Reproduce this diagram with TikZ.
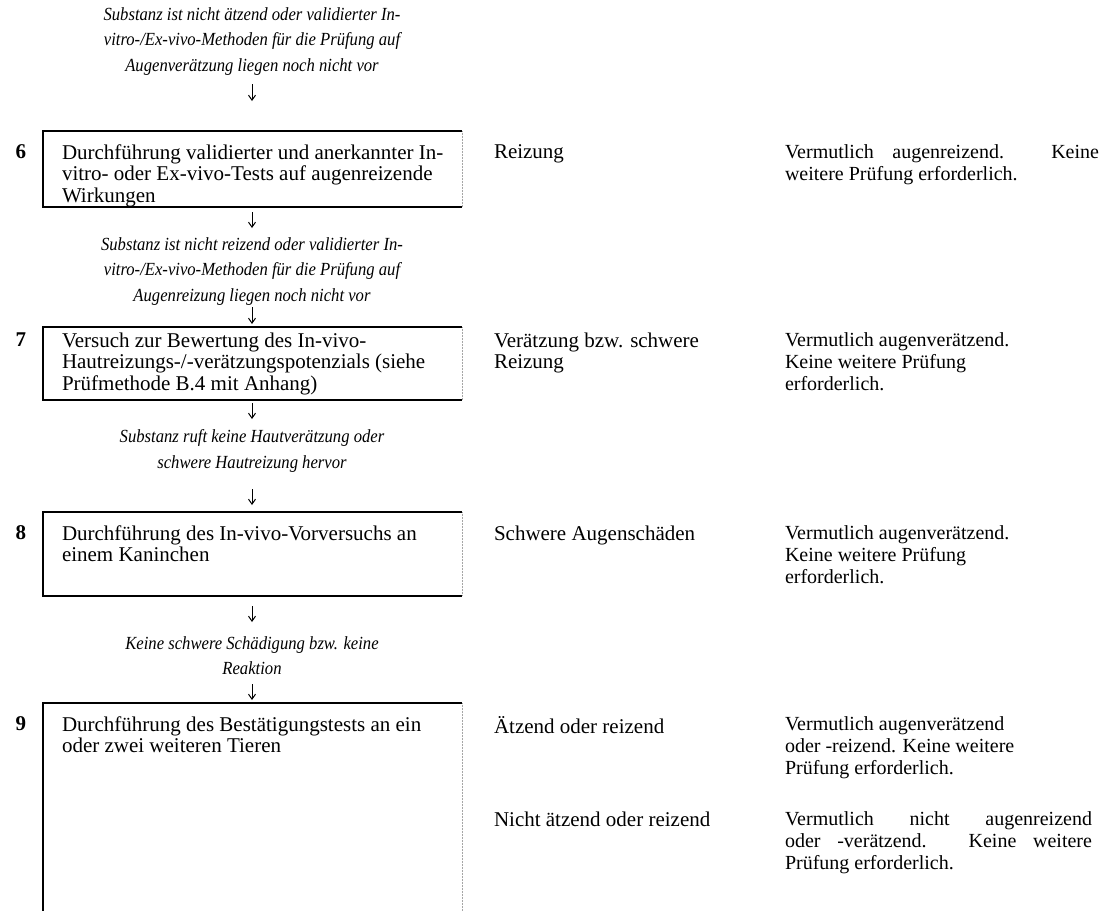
\documentclass[tikz,border=0pt]{standalone}
\usepackage{fontspec}
\setmainfont{Liberation Serif}
\newfontfamily\condit[FakeStretch=0.9]{Liberation Serif Italic}
\usetikzlibrary{arrows.meta}
\newcommand{\sline}[2]{\makebox[#1][s]{#2}}
\begin{document}
\begin{tikzpicture}[x=1pt,y=-1pt,
  every node/.style={inner sep=0pt,outer sep=0pt},
  txt/.style={font=\fontsize{21}{21.6}\selectfont,align=left,anchor=north west},
  rtxt/.style={font=\fontsize{20}{21.6}\selectfont,align=left,anchor=north west},
  ital/.style={font=\fontsize{18.5}{25.5}\condit,align=center,anchor=north},
  num/.style={font=\fontsize{21}{22}\selectfont\bfseries,anchor=north},
  boxline/.style={line width=1.3pt},
  faint/.style={line width=0.5pt,black!35,densely dotted},
  arr/.style={-{Straight Barb[length=5pt,width=7pt,line width=1pt]},line width=0.9pt}]
\useasboundingbox (0,0) rectangle (1109,911);
\fill[white] (0,0) rectangle (1109,911);

% italic conditions
\node[ital] (c1) at (252,7.5) {Substanz ist nicht ätzend oder validierter In-\\vitro-/Ex-vivo-Methoden für die Prüfung auf\\Augenverätzung liegen noch nicht vor};
\node[ital] (c2) at (252,237.5) {Substanz ist nicht reizend oder validierter In-\\vitro-/Ex-vivo-Methoden für die Prüfung auf\\Augenreizung liegen noch nicht vor};
\node[ital] (c3) at (252,429.5) {Substanz ruft keine Hautverätzung oder\\schwere Hautreizung hervor};
\node[ital] (c4) at (252,636.5) {Keine schwere Schädigung bzw. keine\\Reaktion};

% boxes (left, top, bottom solid; right faint)
\coordinate (b6nw) at (43,131); \coordinate (b6se) at (462,207);
\coordinate (b7nw) at (43,327); \coordinate (b7se) at (462,400);
\coordinate (b8nw) at (43,512); \coordinate (b8se) at (462,596);
\coordinate (b9nw) at (43,703); \coordinate (b9se) at (462,911);
\foreach \b in {b6,b7,b8}{
  \draw[boxline] (\b nw -| \b se) -- (\b nw) |- (\b se);
  \draw[faint] (\b nw -| \b se) -- (\b se);
}
\draw[boxline] (b9nw -| b9se) -- (b9nw) -- (b9nw |- b9se);
\draw[faint] (b9nw -| b9se) -- (b9se);

% numbers
\node[num] (n6) at (21,144.5) {6};
\node[num] (n7) at (21,332.5) {7};
\node[num] (n8) at (21,525.5) {8};
\node[num] (n9) at (21,716.5) {9};

% box texts
\node[txt] (t6) at (62,144.5) {Durchführung validierter und anerkannter In-\\vitro- oder Ex-vivo-Tests auf augenreizende\\Wirkungen};
\node[txt] (t7) at (62,332.5) {Versuch zur Bewertung des In-vivo-\\Hautreizungs-/-verätzungspotenzials (siehe\\Prüfmethode B.4 mit Anhang)};
\node[txt] (t8) at (62,525.5) {Durchführung des In-vivo-Vorversuchs an\\einem Kaninchen};
\node[txt] (t9) at (62,716.5) {Durchführung des Bestätigungstests an ein\\oder zwei weiteren Tieren};

% middle column
\node[txt] (m6) at (494,144.5) {Reizung};
\node[txt] (m7) at (494,332.5) {Verätzung bzw. schwere\\Reizung};
\node[txt] (m8) at (494,525.5) {Schwere Augenschäden};
\node[txt] (m9a) at (494,716.5) {Ätzend oder reizend};
\node[txt] (m9b) at (494,811.5) {Nicht ätzend oder reizend};

% right column
\node[rtxt] (r6) at (785,145) {\sline{314pt}{Vermutlich augenreizend. Keine}\\weitere Prüfung erforderlich.};
\node[rtxt] (r7) at (785,333) {Vermutlich augenverätzend.\\Keine weitere Prüfung\\erforderlich.};
\node[rtxt] (r8) at (785,526) {Vermutlich augenverätzend.\\Keine weitere Prüfung\\erforderlich.};
\node[rtxt] (r9a) at (785,717) {Vermutlich augenverätzend\\oder -reizend. Keine weitere\\Prüfung erforderlich.};
\node[rtxt] (r9b) at (785,812) {\sline{307pt}{Vermutlich nicht augenreizend}\\\sline{307pt}{oder -verätzend. Keine weitere}\\Prüfung erforderlich.};

% arrows
\coordinate (a1s) at (252,84);  \coordinate (a1e) at (252,101);
\coordinate (a2s) at (252,212); \coordinate (a2e) at (252,228);
\coordinate (a3s) at (252,307); \coordinate (a3e) at (252,324);
\coordinate (a4s) at (252,403); \coordinate (a4e) at (252,419);
\coordinate (a5s) at (252,489); \coordinate (a5e) at (252,505);
\coordinate (a6s) at (252,606); \coordinate (a6e) at (252,622);
\coordinate (a7s) at (252,684); \coordinate (a7e) at (252,700);
\foreach \i in {1,...,7}{\draw[arr] (a\i s) -- (a\i e);}
\end{tikzpicture}
\end{document}
